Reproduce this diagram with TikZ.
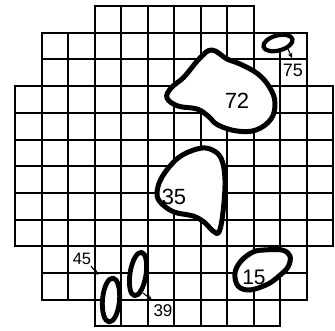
\documentclass[tikz,border=0pt]{standalone}
\usepackage{fontspec}
\setmainfont{Liberation Sans}
\usetikzlibrary{arrows.meta}
\begin{document}
\begin{tikzpicture}[x=1pt,y=-1pt,
  gridline/.style={line width=2pt, line join=miter},
  blob/.style={line width=5pt, fill=white, line join=round},
  lbl/.style={inner sep=0pt, font=\fontsize{22}{22}\selectfont},
  lead/.style={line width=1.1pt, -{Stealth[length=5pt,width=4.5pt]}}]
\useasboundingbox (0,0) rectangle (335,330);
% grid
\foreach \r/\a/\b in {0/3/8, 1/1/10, 2/1/10, 3/0/11, 4/0/11, 5/0/11, 6/0/11, 7/0/11, 8/0/11, 9/1/10, 10/1/10, 11/3/9}{
  \foreach \c in {\a,...,\b}{
    \draw[gridline] ({15+26.5*\c},{6+26.7*\r}) rectangle ++(26.5,26.7);
  }
}
% blob 72
\draw[blob] plot[smooth cycle, tension=0.65] coordinates {
  (212,50) (227,59) (240,64) (258,74) (270,88) (275,103) (271,119) (256,130)
  (237,131) (218,125) (208,116) (197,109) (178,106) (167,98) (171,88) (184,77) (200,58)};
% blob 35
\draw[blob] plot[smooth cycle, tension=0.6] coordinates {
  (210,149) (221,158) (225,180) (223,212) (219,232) (213,231) (204,222) (193,216)
  (174,212) (161,203) (157,193) (162,177) (178,158) (197,149)};
% blob 15
\draw[blob] plot[smooth cycle, tension=0.6] coordinates {
  (264,250) (282,250) (290,256) (288,267) (279,276) (268,284) (250,290) (238,286)
  (235,273) (241,261) (253,252)};
% ellipses
\draw[blob, line width=4.2pt] (278,43) ellipse[x radius=15, y radius=7.5, rotate=15];
\draw[blob, line width=4.8pt] (111,300) ellipse[x radius=8.5, y radius=22, rotate=-5];
\draw[blob, line width=4.8pt] (138,274) ellipse[x radius=8, y radius=22, rotate=-9];
% labels
\node[lbl] (l72) at (237,101) {72};
\node[lbl] (l35) at (174,197) {35};
\node[lbl, font=\fontsize{21}{21}\selectfont] (l15) at (254,277) {15};
\node[lbl, font=\fontsize{18}{18}\selectfont] (l75) at (293,70) {75};
\node[lbl, font=\fontsize{16.5}{16.5}\selectfont] (l45) at (82,259) {45};
\node[lbl, font=\fontsize{17}{17}\selectfont] (l39) at (163,311) {39};
% leaders
\coordinate (e75) at (288,49);
\coordinate (t75) at (292,58);
\coordinate (s45) at (91,266);
\coordinate (t45) at (98,275);
\coordinate (s39) at (143,293);
\coordinate (t39) at (152,300);
\draw[lead] (e75) -- (t75);
\draw[lead] (s45) -- (t45);
\draw[lead] (s39) -- (t39);
\end{tikzpicture}
\end{document}
